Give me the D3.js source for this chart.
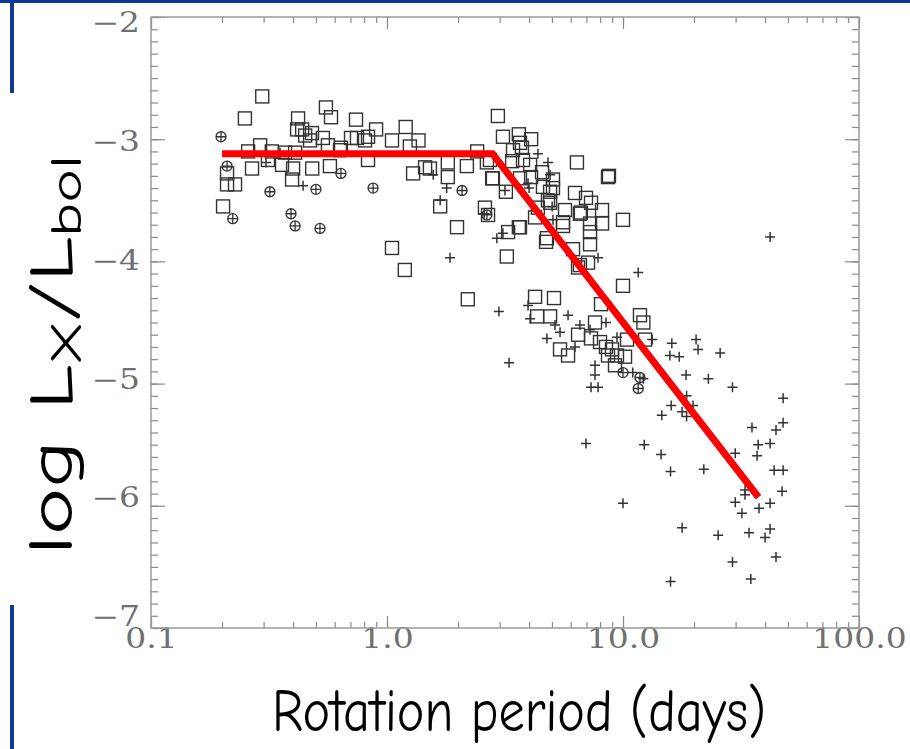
<!DOCTYPE html>
<html>
<head>
<meta charset="utf-8">
<script src="https://cdn.jsdelivr.net/npm/d3@7"></script>
<style>
  body { margin: 0; background: #fff; }
  svg { display: block; }
</style>
</head>
<body>
<svg id="chart"></svg>
<script>
const W = 910, H = 749;

// [rotation period (days), log Lx/Lbol]
const squares = [
  [0.296,-2.65],[0.25,-2.83],[0.42,-2.83],[0.551,-2.74],[0.579,-2.82],[0.739,-2.84],[1.2,-2.9],[0.899,-2.92],[0.416,-2.92],[0.437,-2.92],
  [0.45,-2.97],[0.481,-2.95],[0.472,-3.01],[0.535,-2.99],[0.562,-3.05],[0.632,-3.09],[0.704,-2.99],[0.29,-3.05],[0.258,-3.1],[0.325,-3.1],
  [0.37,-3.11],[0.408,-3.11],[0.268,-3.24],[0.313,-3.17],[0.359,-3.21],[0.4,-3.24],[0.482,-3.24],[0.573,-3.22],[0.396,-3.33],[0.21,-3.28],
  [0.21,-3.37],[0.227,-3.37],[0.202,-3.55],[0.746,-2.99],[0.807,-3.01],[0.831,-2.98],[1.05,-3.01],[1.25,-3.06],[0.831,-3.17],[1.29,-3.28],
  [1.45,-3.23],[1.52,-3.24],[1.81,-3.19],[1.81,-3.31],[2.18,-3.22],[2.41,-3.1],[2.73,-3.17],[2.79,-3.32],[1.68,-3.55],[2.6,-3.56],
  [2.68,-3.62],[1.98,-3.72],[1.05,-3.89],[1.19,-4.07],[2.2,-4.31],[0.638,-3.07],[1.36,-3.01],[3.19,-3.43],[3.26,-3.76],[3.62,-3.72],
  [3.22,-3.96],[2.81,-3.32],[2.95,-2.81],[3.1,-2.98],[3.62,-2.96],[4.08,-3.0],[3.42,-3.09],[3.73,-3.07],[3.66,-3.03],[3.39,-3.18],
  [3.77,-3.17],[4.04,-3.21],[4.54,-3.27],[5.05,-3.33],[6.38,-3.19],[8.64,-3.31],[8.72,-3.3],[2.65,-3.19],[4.08,-3.31],[4.58,-3.39],
  [4.91,-3.43],[4.81,-3.5],[4.36,-3.56],[5.68,-3.58],[6.26,-3.44],[6.97,-3.48],[7.32,-3.52],[6.63,-3.6],[8.15,-3.58],[8.15,-3.69],
  [10.0,-3.66],[5.57,-3.68],[4.24,-3.64],[3.66,-3.72],[4.76,-3.81],[6.14,-3.9],[7.25,-3.86],[7.11,-4.01],[6.45,-4.05],[10.0,-4.2],
  [4.24,-4.29],[5.1,-4.3],[8.07,-4.35],[11.8,-4.44],[4.33,-4.45],[4.91,-4.45],[12.2,-4.5],[7.61,-4.5],[6.45,-4.6],[7.32,-4.63],
  [7.99,-4.66],[8.47,-4.7],[8.98,-4.72],[10.4,-4.64],[9.43,-4.77],[10.2,-4.78],[8.64,-4.77],[9.25,-4.85],[5.41,-4.72],[5.85,-4.77],
  [12.4,-4.64],[6.57,-3.61],[7.25,-3.69],[7.25,-3.76],[3.66,-3.32],[5.05,-3.4],[4.91,-3.52],[6.57,-4.03],[4.72,-3.84],[5.57,-3.71]
];

const crosses = [
  [0.441,-3.38],[0.307,-3.19],[0.352,-3.11],[1.57,-3.29],[1.79,-3.4],[1.68,-3.5],[1.85,-3.97],[2.92,-3.81],[2.98,-4.41],[3.29,-4.83],
  [4.36,-3.12],[4.81,-3.19],[4.91,-3.29],[3.16,-3.42],[3.96,-3.36],[4.0,-3.4],[3.1,-3.77],[5.01,-3.55],[5.05,-3.66],[2.58,-3.61],
  [7.84,-3.97],[11.6,-4.09],[42.0,-3.8],[3.96,-4.36],[4.04,-4.47],[5.15,-4.52],[5.85,-4.44],[6.57,-4.52],[4.76,-4.63],[7.61,-4.85],
  [7.61,-4.93],[7.32,-5.03],[7.84,-5.03],[11.0,-4.91],[5.41,-4.58],[6.26,-4.7],[9.43,-4.62],[7.25,-4.56],[8.47,-4.5],
  [13.3,-4.64],[16.1,-4.67],[15.8,-4.77],[17.3,-4.78],[20.4,-4.64],[20.8,-4.72],[25.8,-4.75],[18.5,-4.93],[23.0,-4.96],[29.1,-5.03],
  [47.7,-5.12],[18.6,-5.1],[19.8,-5.18],[16.0,-5.18],[14.6,-5.26],[17.8,-5.23],[18.6,-5.27],[35.2,-5.36],[44.5,-5.38],[47.7,-5.32],
  [37.4,-5.5],[42.0,-5.49],[37.0,-5.59],[29.9,-5.57],[12.3,-5.5],[14.5,-5.58],[15.9,-5.72],[22.0,-5.7],[43.7,-5.71],[47.7,-5.71],
  [47.2,-5.88],[32.9,-5.87],[32.9,-5.91],[29.9,-5.97],[31.9,-6.06],[37.7,-6.02],[42.0,-5.98],[17.8,-6.18],[25.3,-6.24],[34.2,-6.22],
  [42.0,-6.19],[40.0,-6.26],[44.5,-6.42],[29.1,-6.46],[15.9,-6.62],[34.8,-6.6],[6.97,-5.49],[10.0,-5.98],[12.2,-4.96]
];

const circled = [
  [0.198,-2.98],[0.21,-3.22],[0.222,-3.65],[0.319,-3.43],[0.392,-3.61],[0.408,-3.71],[0.5,-3.41],[0.52,-3.73],[0.638,-3.28],[0.873,-3.4],
  [2.08,-3.42],[2.65,-3.62],[10.0,-4.91],[11.8,-4.95],[11.6,-5.04]
];

// broken-line fit
const fitP = [0.2, 2.8, 37.5];
const fitL = [-3.12, -3.12, -5.93];

const xMajor = [0.1, 1, 10, 100];
const yMajor = [-7, -6, -5, -4, -3, -2];

const padL = 151, padR = 859, padT = 17, padB = 628;

const svg = d3.select('#chart')
  .attr('width', W)
  .attr('height', H);

svg.append('rect').attr('width', W).attr('height', H).attr('fill', '#fff');

// slide decoration
const blue = '#0b3a9c';
svg.append('rect').attr('x', 0).attr('y', 0).attr('width', W).attr('height', 3).attr('fill', blue);
svg.append('rect').attr('x', 10).attr('y', 0).attr('width', 4).attr('height', 93).attr('fill', blue);
svg.append('rect').attr('x', 10).attr('y', 605).attr('width', 4).attr('height', 144).attr('fill', blue);

const x = d3.scaleLog().domain([0.1, 100]).range([padL, padR]);
const y = d3.scaleLinear().domain([-7, -2]).range([padB, padT]);
// the scanned labels sit on a slightly tighter pitch than the ticks
const yLab = d3.scaleLinear().domain([-7, -2]).range([617, 23]);

const tickCol = '#8a8a8a';
const labelFont = '"DejaVu Serif", "Liberation Serif", serif';

function styleAxis(g) {
  g.select('.domain').remove();
  g.selectAll('line').attr('stroke', tickCol).attr('stroke-width', 1.2);
}

// minor ticks
svg.append('g').attr('transform', 'translate(0,' + padB + ')')
  .call(d3.axisBottom(x).tickValues(x.ticks()).tickSize(-6).tickFormat('')).call(styleAxis);
svg.append('g').attr('transform', 'translate(0,' + padT + ')')
  .call(d3.axisTop(x).tickValues(x.ticks()).tickSize(-6).tickFormat('')).call(styleAxis);
svg.append('g').attr('transform', 'translate(' + padL + ',0)')
  .call(d3.axisLeft(y).tickValues(y.ticks(50)).tickSize(-7).tickFormat('')).call(styleAxis);
svg.append('g').attr('transform', 'translate(' + padR + ',0)')
  .call(d3.axisRight(y).tickValues(y.ticks(50)).tickSize(-7).tickFormat('')).call(styleAxis);

// major ticks
const xAxis = svg.append('g').attr('transform', 'translate(0,' + padB + ')')
  .call(d3.axisBottom(x).tickValues(xMajor).tickSize(-12).tickPadding(1).tickFormat(d3.format('.1f')))
  .call(styleAxis);
svg.append('g').attr('transform', 'translate(0,' + padT + ')')
  .call(d3.axisTop(x).tickValues(xMajor).tickSize(-12).tickFormat('')).call(styleAxis);
const yAxis = svg.append('g').attr('transform', 'translate(' + padL + ',0)')
  .call(d3.axisLeft(y).tickValues(yMajor).tickSize(-14).tickPadding(9).tickFormat(d3.format('d')))
  .call(styleAxis);
svg.append('g').attr('transform', 'translate(' + padR + ',0)')
  .call(d3.axisRight(y).tickValues(yMajor).tickSize(-14).tickFormat('')).call(styleAxis);

xAxis.selectAll('text')
  .attr('font-family', labelFont).attr('font-size', 27).attr('fill', '#707070')
  .attr('transform', 'scale(1.22,1)');
yAxis.selectAll('text')
  .attr('font-family', labelFont).attr('font-size', 27).attr('fill', '#707070')
  .attr('transform', d => 'translate(0,' + (yLab(d) - y(d)) + ') scale(1.22,1)');

// frame
svg.append('rect')
  .attr('x', padL).attr('y', padT)
  .attr('width', padR - padL).attr('height', padB - padT)
  .attr('fill', 'none').attr('stroke', '#9a9a9a').attr('stroke-width', 1.5);

const ink = '#333';

svg.append('g').selectAll('rect')
  .data(squares)
  .enter()
  .append('rect')
  .attr('x', d => x(d[0]) - 6.5)
  .attr('y', d => y(d[1]) - 6.5)
  .attr('width', 13)
  .attr('height', 13)
  .attr('fill', 'none')
  .attr('stroke', ink)
  .attr('stroke-width', 1.4);

const plusPath = 'M-5,0H5M0,-5V5';

svg.append('g').selectAll('path')
  .data(crosses)
  .enter()
  .append('path')
  .attr('transform', d => 'translate(' + x(d[0]) + ',' + y(d[1]) + ')')
  .attr('d', plusPath)
  .attr('fill', 'none')
  .attr('stroke', ink)
  .attr('stroke-width', 1.5);

const circ = svg.append('g').selectAll('g')
  .data(circled)
  .enter()
  .append('g')
  .attr('transform', d => 'translate(' + x(d[0]) + ',' + y(d[1]) + ')');
circ.append('circle').attr('r', 5).attr('fill', 'none').attr('stroke', ink).attr('stroke-width', 1.3);
circ.append('path').attr('d', plusPath).attr('fill', 'none').attr('stroke', ink).attr('stroke-width', 1.3);

// fit line
const fit = fitP.map((p, i) => [p, fitL[i]]);
svg.append('path')
  .datum(fit)
  .attr('d', d3.line().x(d => x(d[0])).y(d => y(d[1])))
  .attr('fill', 'none')
  .attr('stroke', '#ff0000')
  .attr('stroke-width', 7)
  .attr('stroke-linejoin', 'miter');

// axis titles
const titleFont = '"Comic Sans MS", "Comic Neue", "DejaVu Sans", sans-serif';

const yt = svg.append('text')
  .attr('transform', 'translate(72,355) rotate(-90)')
  .attr('text-anchor', 'middle')
  .attr('font-family', titleFont)
  .attr('font-size', 62)
  .attr('fill', '#000')
  .attr('textLength', 400)
  .attr('lengthAdjust', 'spacingAndGlyphs');
yt.append('tspan').text('log L');
yt.append('tspan').attr('font-size', 44).attr('dy', 9).text('X');
yt.append('tspan').attr('dy', -9).text('/L');
yt.append('tspan').attr('font-size', 44).attr('dy', 9).text('bol');

svg.append('text')
  .attr('x', 519)
  .attr('y', 731)
  .attr('text-anchor', 'middle')
  .attr('font-family', titleFont)
  .attr('font-size', 60)
  .attr('fill', '#000')
  .attr('textLength', 494)
  .attr('lengthAdjust', 'spacingAndGlyphs')
  .text('Rotation period (days)');
</script>
</body>
</html>
